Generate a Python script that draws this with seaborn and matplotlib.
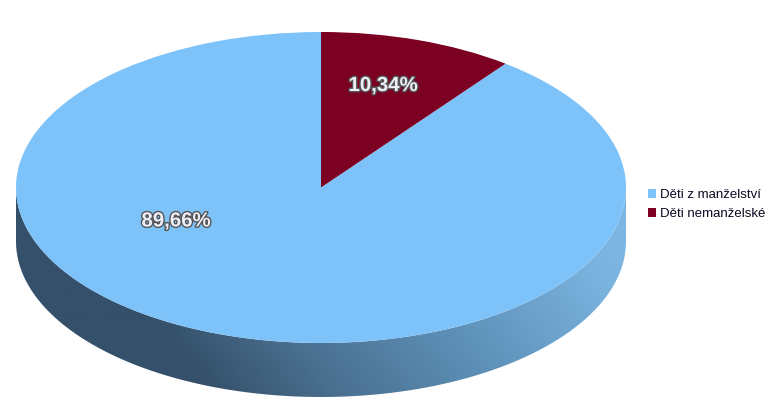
"""3D style pie chart: Děti z manželství / Děti nemanželské."""

import numpy as np
import matplotlib
matplotlib.use("Agg")
import matplotlib.pyplot as plt
import matplotlib.patheffects as pe
from matplotlib.colors import LinearSegmentedColormap
from matplotlib.path import Path
from matplotlib.patches import PathPatch
import seaborn as sns

categories = ["Děti z manželství", "Děti nemanželské"]
shares = [89.66, 10.34]
slice_colors = ["#7DC3FA", "#7B0022"]
wall_stops = [(0, "#34506A"), (0.25, "#4A7090"), (0.63, "#6196BE"),
              (0.93, "#7AB2DE"), (1, "#7DB6E2")]

sns.set_theme(style="white")
plt.rcParams["font.family"] = ["Liberation Sans", "DejaVu Sans"]

# pixel geometry of the ellipse in the 770x420 figure
W, H = 770, 420
CX, CY = 321, 187.5
RX, RY = 305, 155.5
DEPTH = 54 / RY

fig = plt.figure(figsize=(W / 100, H / 100), dpi=100)
ax = fig.add_axes([0, 0, 1, 1])


def pct_label(p):
    return f"{p:.2f}".replace(".", ",") + "%"


wedges, _, autotexts = ax.pie(
    shares, colors=slice_colors, startangle=90, autopct=pct_label,
    wedgeprops={"linewidth": 0, "zorder": 2},
)
ax.set_aspect("auto")

# side wall of the disc, shaded from dark left to light right
t = np.linspace(np.pi, 2 * np.pi, 200)
wall_x = np.r_[np.cos(t), np.cos(t[::-1])]
wall_y = np.r_[np.sin(t) - DEPTH, np.sin(t[::-1])]
clip = PathPatch(Path(np.column_stack([wall_x, wall_y])), transform=ax.transData,
                 fc="none", ec="none")
ax.add_patch(clip)

gx, gy = np.meshgrid(np.linspace(-1, 1, 500), np.linspace(-1 - DEPTH, 0, 200))
shade = gx * RX + 0.8 * gy * RY
cmap = LinearSegmentedColormap.from_list("wall", wall_stops)
img = ax.imshow(shade, cmap=cmap, origin="lower", aspect="auto", zorder=1,
                extent=[-1, 1, -1 - DEPTH, 0], vmin=-277, vmax=240)
img.set_clip_path(clip)
ax.set_xlim(-CX / RX, (W - CX) / RX)
ax.set_ylim((CY - H) / RY, CY / RY)

# percentage labels
label_pos = [((176 - CX) / RX, (CY - 221) / RY), ((383 - CX) / RX, (CY - 85.5) / RY)]
for txt, pos in zip(autotexts, label_pos):
    txt.set_position(pos)
    txt.set_ha("center")
    txt.set_va("center")
    txt.set_fontsize(14.7)
    txt.set_fontweight("bold")
    txt.set_color("#EEEEF8")
    txt.set_zorder(5)
    txt.set_path_effects([pe.withStroke(linewidth=2, foreground="#555555")])

leg = ax.legend(
    wedges, categories, loc="center left", bbox_to_anchor=(647.5 / W, 1 - 204.5 / H),
    frameon=False, fontsize=9.5, handlelength=0.68, handleheight=0.68,
    handletextpad=0.25, labelspacing=0.5, borderpad=0, borderaxespad=0,
)
for text in leg.get_texts():
    text.set_color("#0A0A22")

plt.savefig("out.png", dpi=100)
plt.close()
